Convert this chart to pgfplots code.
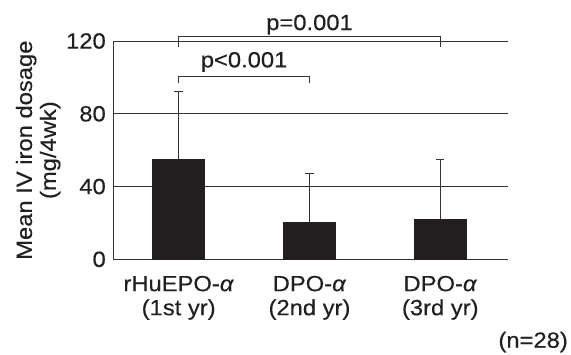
\documentclass[border=0pt]{standalone}
\usepackage{pgfplots}
\pgfplotsset{compat=1.18}
\usepackage{fontspec}
\setmainfont{Liberation Sans}[FakeStretch=1.08, FakeBold=0.4]
\definecolor{barc}{HTML}{231F20}
\definecolor{linec}{HTML}{333333}
\begin{document}
\fontsize{22}{24}\selectfont
\begin{tikzpicture}
\useasboundingbox (-113.3pt,-94.7pt) rectangle (457.7pt,259.3pt);
\begin{axis}[
  at={(0,0)}, anchor=south west,
  scale only axis, width=395pt, height=218.3pt,
  xmin=-0.5, xmax=2.52, ymin=0, ymax=120,
  axis x line*=bottom, axis y line*=left,
  axis line style={line width=1pt, color=linec, -},
  ytick={0,40,80,120},
  ymajorgrids, grid style={line width=1pt, color=linec},
  major tick length=0pt,
  xtick={0,1,2},
  xticklabels={{rHuEPO-\textit{α}\\(1st yr)},{DPO-\textit{α}\\(2nd yr)},{DPO-\textit{α}\\(3rd yr)}},
  xticklabel style={align=center, text=barc, yshift=-9pt},
  yticklabel style={text=barc},
  /pgf/number format/assume math mode=true,
  ylabel={Mean IV iron dosage\\(mg/4wk)},
  ylabel style={align=center, at={(axis description cs:-0.19,0.5)}, anchor=center, text=barc},
  clip=false,
]
\addplot[ybar, bar width=52.5pt, fill=barc, draw=barc, line width=0pt,
  error bars/.cd, y dir=plus, y explicit,
  error bar style={line width=1pt, draw=linec, solid},
  error mark=|,
  error mark options={draw=linec, line width=1pt, mark size=4.2pt, solid}]
  table[x=x, y=y, y error=e] {
x y e
0 55 37
1 20 27
2 22 33
};
\addplot[sharp plot, no marks, line width=1pt, color=linec] coordinates {(0,97) (0,100.5) (1,100.5) (1,97)};
\addplot[sharp plot, no marks, line width=1pt, color=linec] coordinates {(0,116.5) (0,122.4) (2,122.4) (2,116.5)};
\node[anchor=base, text=barc] at (axis cs:0.5,105.5) {p<0.001};
\node[anchor=base, text=barc] at (axis cs:1,126) {p=0.001};
\node[anchor=base, text=barc] at (axis cs:2.71,-48.6) {(n=28)};
\end{axis}
\end{tikzpicture}
\end{document}
